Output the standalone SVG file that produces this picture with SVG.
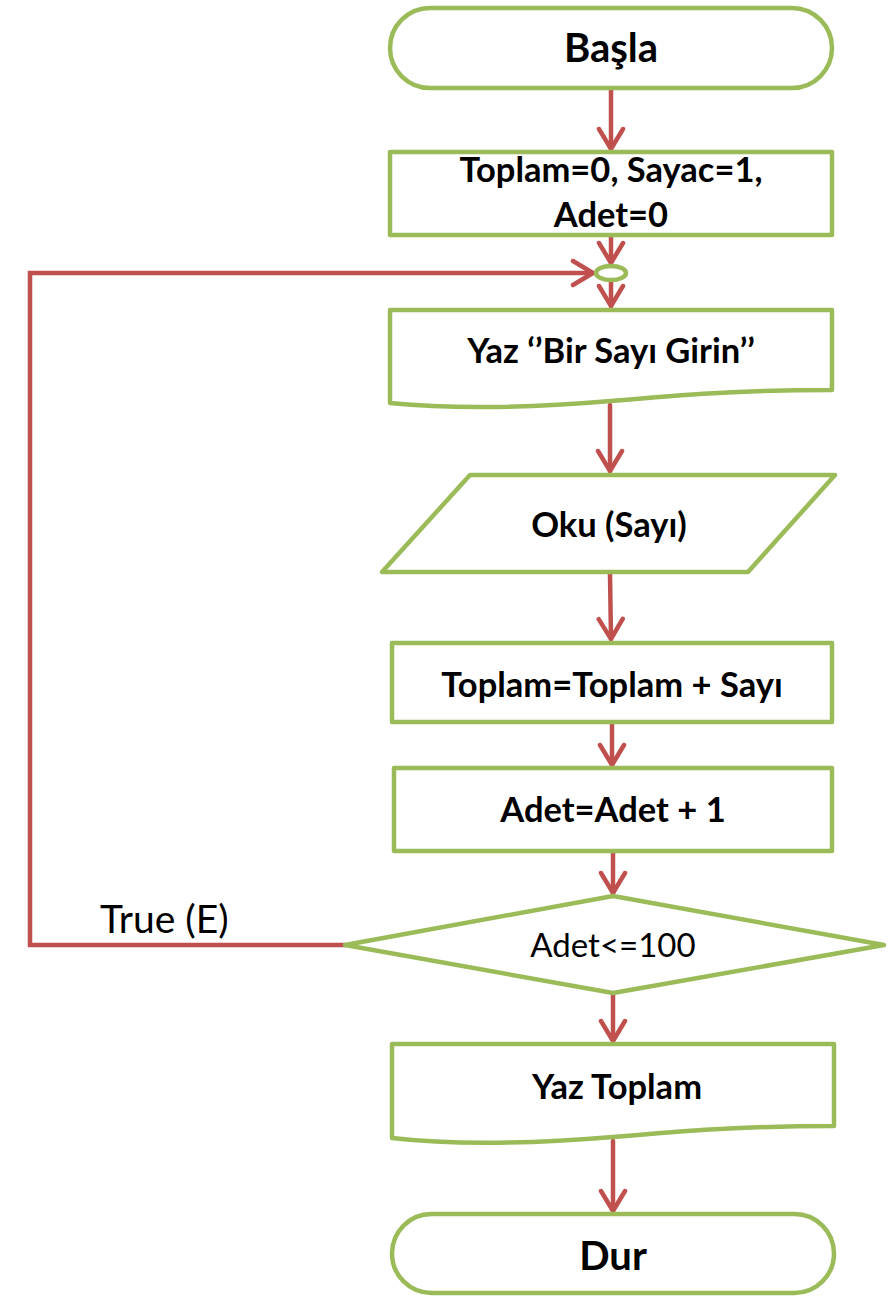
<svg xmlns="http://www.w3.org/2000/svg" width="892" height="1297" viewBox="0 0 892 1297">
  <style>
    .shape { fill: #ffffff; stroke: #9BBB59; stroke-width: 4.5; stroke-linejoin: round; }
    .flow { fill: none; stroke: #C0504D; stroke-width: 4.5; stroke-linecap: round; stroke-linejoin: miter; }
    .lbl { font-family: Lato, "Open Sans", "Liberation Sans", sans-serif; font-weight: bold; fill: #000000; text-anchor: middle; }
    .big { font-size: 40px; }
    .mid { font-size: 34.5px; }
    .plain { font-family: Lato, "Open Sans", "Liberation Sans", sans-serif; font-weight: normal; fill: #000000; }
  </style>
  <defs>
    <marker id="arrow" markerUnits="userSpaceOnUse" viewBox="-24 -16 28 32" markerWidth="28" markerHeight="32" refX="0" refY="0" orient="auto">
      <path d="M-20,-12 L0,0 L-20,12" fill="none" stroke="#C0504D" stroke-width="4.5" stroke-linecap="round" stroke-linejoin="miter"/>
    </marker>
  </defs>

  <!-- connectors -->
  <g id="connectors">
    <line class="flow" x1="611" y1="90" x2="611" y2="149" marker-end="url(#arrow)"/>
    <line class="flow" x1="611" y1="236" x2="611" y2="263" marker-end="url(#arrow)"/>
    <line class="flow" x1="611" y1="281" x2="611" y2="306" marker-end="url(#arrow)"/>
    <line class="flow" x1="610" y1="405" x2="610" y2="471" marker-end="url(#arrow)"/>
    <line class="flow" x1="610" y1="574" x2="611" y2="639" marker-end="url(#arrow)"/>
    <line class="flow" x1="612" y1="724" x2="612" y2="765" marker-end="url(#arrow)"/>
    <line class="flow" x1="613" y1="853" x2="613" y2="893" marker-end="url(#arrow)"/>
    <line class="flow" x1="613" y1="995" x2="613" y2="1041" marker-end="url(#arrow)"/>
    <line class="flow" x1="613" y1="1141" x2="613" y2="1211" marker-end="url(#arrow)"/>
    <polyline class="flow" points="345,945 30,945 30,273 593,273" marker-end="url(#arrow)"/>
  </g>

  <g id="start">
    <rect class="shape" x="390" y="8" width="442" height="80" rx="40" ry="40"/>
    <text class="lbl big" x="611" y="62">Başla</text>
  </g>

  <g id="init">
    <rect class="shape" x="390" y="152" width="442" height="83"/>
    <text class="lbl mid" x="611" y="182">Toplam=0, Sayac=1,</text>
    <text class="lbl mid" x="611" y="227">Adet=0</text>
  </g>

  <g id="join">
    <ellipse class="shape" cx="611" cy="273" rx="15" ry="7" stroke-width="3.5"/>
  </g>

  <g id="prompt">
    <path class="shape" d="M390,310 H832 V390 C 740,390 680,395 611,401 C 540,407 460,410 390,403 Z"/>
    <text class="lbl mid" x="611" y="363">Yaz ‘’Bir Sayı Girin’’</text>
  </g>

  <g id="read">
    <polygon class="shape" points="470,475 835,475 748,572 382,572"/>
    <text class="lbl mid" x="609" y="537">Oku (Sayı)</text>
  </g>

  <g id="sum">
    <rect class="shape" x="392" y="643" width="440" height="79"/>
    <text class="lbl mid" x="612" y="697">Toplam=Toplam + Sayı</text>
  </g>

  <g id="count">
    <rect class="shape" x="394" y="768" width="438" height="83"/>
    <text class="lbl mid" x="613" y="822">Adet=Adet + 1</text>
  </g>

  <g id="check">
    <polygon class="shape" points="613,896 884,945 613,993 345,945"/>
    <text class="plain" x="613" y="957" font-size="33" text-anchor="middle">Adet&lt;=100</text>
  </g>

  <text class="plain" x="100" y="933" font-size="39">True (E)</text>

  <g id="output">
    <path class="shape" d="M392,1044 H834 V1126 C 742,1126 682,1131 613,1137 C 540,1143 460,1146 392,1138 Z"/>
    <text class="lbl mid" x="617" y="1099">Yaz Toplam</text>
  </g>

  <g id="stop">
    <rect class="shape" x="392" y="1214" width="442" height="79" rx="39.5" ry="39.5"/>
    <text class="lbl big" x="613" y="1270">Dur</text>
  </g>
</svg>
